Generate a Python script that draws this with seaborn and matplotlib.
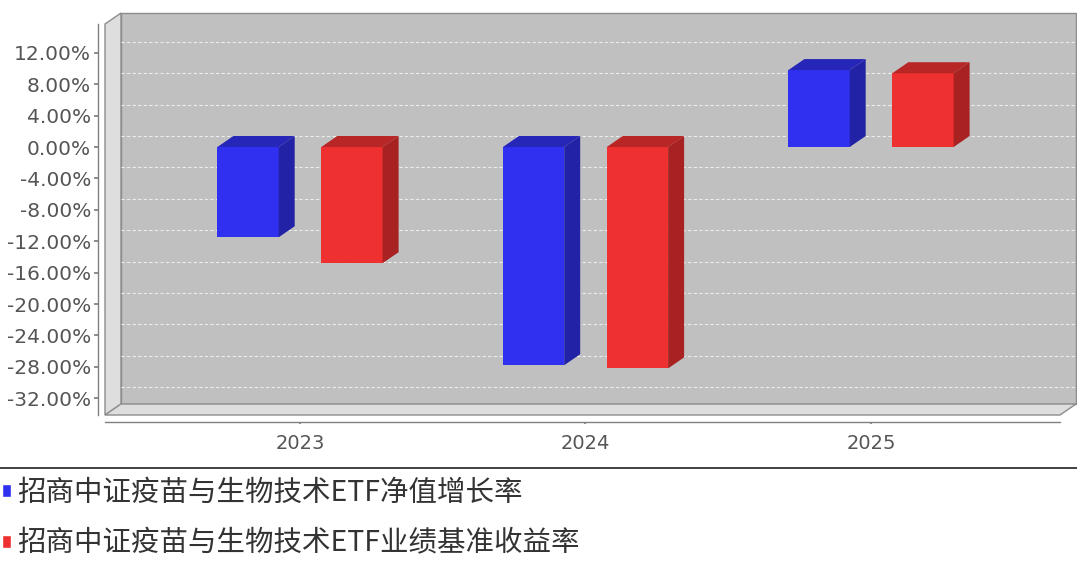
import pandas as pd
import matplotlib.pyplot as plt
import seaborn as sns
from matplotlib.patches import Polygon, Patch
from matplotlib.lines import Line2D
from matplotlib.ticker import FuncFormatter, MultipleLocator

years = ['2023', '2024', '2025']
nav_growth = [-11.5, -27.8, 9.8]
benchmark = [-14.8, -28.2, 9.4]
series_names = ['招商中证疫苗与生物技术ETF净值增长率', '招商中证疫苗与生物技术ETF业绩基准收益率']
front_colors = ['#3030f0', '#ee3030']
side_colors = ['#2222a6', '#a82222']
top_colors = ['#2626b8', '#b82626']

df = pd.DataFrame({
    'year': years * 2,
    'series': [series_names[0]] * 3 + [series_names[1]] * 3,
    'value': nav_growth + benchmark,
})

sns.set_theme(style='white')
plt.rcParams['font.family'] = ['Noto Sans CJK SC', 'DejaVu Sans']

W, H = 1077, 562
fig = plt.figure(figsize=(W / 100, H / 100), dpi=100)
# front face of the plot box, in pixels
left, right, top, bottom = 105, 1060, 24, 415
ax = fig.add_axes([left / W, 1 - bottom / H, (right - left) / W, (bottom - top) / H])
ax.set_facecolor('none')

sns.barplot(data=df, x='year', y='value', hue='series', palette=front_colors,
            saturation=1, width=0.728, gap=0.41, linewidth=0, legend=False, ax=ax)
bars = list(ax.patches)

ax.set_xlim(-0.683, 2.662)
ax.set_ylim(-34.14, 15.67)
x0, x1 = ax.get_xlim()
y0, y1 = ax.get_ylim()

# depth of the 3d effect: 16 px right, 11 px up
o = ax.transData.transform((0, 0))
ddx, ddy = ax.transData.inverted().transform(o + [16, 11])

wall_kw = dict(clip_on=False, zorder=0.2, edgecolor='#8c8c8c', lw=1)
ax.add_patch(Polygon([(x0 + ddx, y0 + ddy), (x1 + ddx, y0 + ddy), (x1 + ddx, y1 + ddy),
                      (x0 + ddx, y1 + ddy)], facecolor='#c0c0c0', **wall_kw))
ax.add_patch(Polygon([(x0, y0), (x0 + ddx, y0 + ddy), (x0 + ddx, y1 + ddy), (x0, y1)],
                     facecolor='#dedede', **wall_kw))
ax.add_patch(Polygon([(x0, y0), (x1, y0), (x1 + ddx, y0 + ddy), (x0 + ddx, y0 + ddy)],
                     facecolor='#dedede', **wall_kw))

ax.yaxis.set_major_locator(MultipleLocator(4))
for t in ax.get_yticks():
    if y0 < t < y1:
        ax.plot([x0 + ddx, x1 + ddx], [t + ddy, t + ddy], color='#ececec', lw=0.8,
                ls=(0, (3, 2)), clip_on=False, zorder=0.3)

# 3d faces of the bars
for bar in bars:
    k = 0 if bar.get_facecolor()[2] > 0.5 else 1
    bar.set_zorder(3)
    x, w = bar.get_x(), bar.get_width()
    yb = min(bar.get_y(), bar.get_y() + bar.get_height())
    yt = max(bar.get_y(), bar.get_y() + bar.get_height())
    ax.add_patch(Polygon([(x, yt), (x + w, yt), (x + w + ddx, yt + ddy), (x + ddx, yt + ddy)],
                         facecolor=top_colors[k], lw=0, zorder=3))
    ax.add_patch(Polygon([(x + w, yb), (x + w + ddx, yb + ddy), (x + w + ddx, yt + ddy), (x + w, yt)],
                         facecolor=side_colors[k], lw=0, zorder=3))

ax.yaxis.set_major_formatter(FuncFormatter(lambda v, p: f'{v:.2f}%'))
ax.set_xlabel('')
ax.set_ylabel('')
sns.despine(ax=ax, top=True, right=True)
for s in ['left', 'bottom']:
    ax.spines[s].set_position(('outward', 5))
    ax.spines[s].set_color('#808080')
    ax.spines[s].set_linewidth(1)
ax.tick_params(axis='y', left=True, length=3, color='#808080', labelcolor='#555555',
               labelsize=14.5, pad=2)
ax.tick_params(axis='x', bottom=True, length=1.5, color='#808080', labelcolor='#555555',
               labelsize=14, pad=7)
for lab in ax.get_xticklabels() + ax.get_yticklabels():
    lab.set_fontfamily('DejaVu Sans')

fig.add_artist(Line2D([0, 1], [1 - 468 / H, 1 - 468 / H], transform=fig.transFigure,
                      color='#333333', lw=1.3))

handles = [Patch(facecolor=c) for c in front_colors]
fig.legend(handles, series_names, loc='upper left', bbox_to_anchor=(0.002, 1 - 478 / H),
           frameon=False, fontsize=20.5, handlelength=0.32, handleheight=0.32,
           handletextpad=0.22, labelspacing=0.72, borderaxespad=0, borderpad=0,
           labelcolor='#333333')

fig.savefig('out.png', dpi=100)
